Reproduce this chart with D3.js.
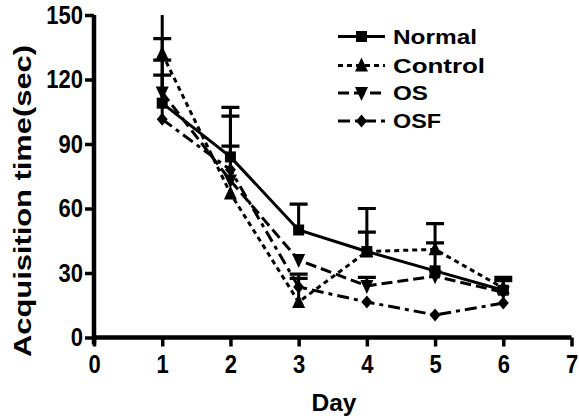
<!DOCTYPE html>
<html>
<head>
<meta charset="utf-8">
<script src="https://cdn.jsdelivr.net/npm/d3@7"></script>
<style>
  html, body { margin: 0; padding: 0; background: #fff; }
  svg { display: block; }
  text { font-family: "Liberation Sans", Arial, sans-serif; font-weight: bold; fill: #000; }
</style>
</head>
<body>
<svg id="chart" width="579" height="420"></svg>
<script>
// ---- data ----
const days = [1, 2, 3, 4, 5, 6];
const xTicks = [0, 1, 2, 3, 4, 5, 6, 7];
const yTicks = [0, 30, 60, 90, 120, 150];
const seriesNames = ["Normal", "Control", "OS", "OSF"];
const normalVals  = [109, 84, 50, 40, 31, 22];
const normalErr   = [20, 23, 12, 20, 22, 6];
const controlVals = [132, 67, 16.5, 40, 41, 23];
const controlErr  = [20, 0, 13, 9, 3, 3.5];
const osVals      = [114, 73, 36, 24, 28.5, 21];
const osErr       = [25, 16, 0, 4, 0, 0];
const osfVals     = [101.5, 78, 23.5, 16.5, 10.5, 16];
const osfErr      = [20.5, 25, 4, 0, 0, 0];
const xTitle = "Day";
const yTitle = "Acquisition time(sec)";

const series = [
  { name: seriesNames[0], vals: normalVals,  err: normalErr,  shape: "square", dash: null },
  { name: seriesNames[1], vals: controlVals, err: controlErr, shape: "up",     dash: "5,4" },
  { name: seriesNames[2], vals: osVals,      err: osErr,      shape: "down",   dash: "11,5" },
  { name: seriesNames[3], vals: osfVals,     err: osfErr,     shape: "diamond",dash: "12,5,4,5" }
];

const svg = d3.select("#chart");
const x = d3.scaleLinear().domain([0, 7]).range([94, 571.5]);
const y = d3.scaleLinear().domain([0, 150]).range([337.5, 15]);

function markerPath(shape) {
  switch (shape) {
    case "square":  return "M-5.5,-5.5H5.5V5.5H-5.5Z";
    case "up":      return "M0,-8L6.5,6H-6.5Z";
    case "down":    return "M0,8L6.5,-6H-6.5Z";
    case "diamond": return "M0,-6.5L5.5,0L0,6.5L-5.5,0Z";
  }
}

// clip
svg.append("defs").append("clipPath").attr("id", "plotclip")
  .append("rect").attr("x", x(0)).attr("y", y(150)).attr("width", x(7) - x(0)).attr("height", y(0) - y(150));

const plot = svg.append("g").attr("clip-path", "url(#plotclip)");

const line = d3.line().x((d, i) => x(days[i])).y(d => y(d));

series.forEach(s => {
  plot.append("path")
    .attr("d", line(s.vals))
    .attr("fill", "none")
    .attr("stroke", "#000")
    .attr("stroke-width", 3)
    .attr("stroke-dasharray", s.dash);
});

// error bars (upper only)
series.forEach(s => {
  s.vals.forEach((v, i) => {
    if (!s.err[i]) return;
    const cx = x(days[i]);
    plot.append("line")
      .attr("x1", cx).attr("x2", cx)
      .attr("y1", y(v)).attr("y2", y(v + s.err[i]))
      .attr("stroke", "#000").attr("stroke-width", 3);
    plot.append("line")
      .attr("x1", cx - 9).attr("x2", cx + 9)
      .attr("y1", y(v + s.err[i])).attr("y2", y(v + s.err[i]))
      .attr("stroke", "#000").attr("stroke-width", 3.2);
  });
});

// markers
series.forEach(s => {
  s.vals.forEach((v, i) => {
    svg.append("path")
      .attr("d", markerPath(s.shape))
      .attr("transform", `translate(${x(days[i])},${y(v)})`)
      .attr("fill", "#000");
  });
});

// axes
const fmt = d3.format("d");
const yAxis = svg.append("g").attr("transform", `translate(${x(0)},0)`)
  .call(d3.axisLeft(y).tickValues(yTicks).tickFormat(fmt).tickSize(9).tickSizeOuter(0).tickPadding(2));
const xAxis = svg.append("g").attr("transform", `translate(0,${y(0)})`)
  .call(d3.axisBottom(x).tickValues(xTicks).tickFormat(fmt).tickSize(9).tickSizeOuter(0).tickPadding(6));

[yAxis, xAxis].forEach(g => {
  g.select(".domain").attr("stroke", "#000").attr("stroke-width", 4.5);
  g.selectAll(".tick line").attr("stroke", "#000").attr("stroke-width", 3.5);
  g.selectAll(".tick text").attr("font-size", 22)
    .attr("transform", "scale(1,1.15)")
    .style("font-family", '"Liberation Sans", Arial, sans-serif').style("font-weight", "bold").attr("fill", "#000");
});
yAxis.select(".domain").attr("d", `M0,${y(150)}V${y(0) + 7}`);
xAxis.select(".domain").attr("d", `M${x(0)},0H${x(7)}`);

// titles
svg.append("text").attr("x", 334).attr("y", 411).attr("text-anchor", "middle")
  .attr("font-size", 23).attr("textLength", 45).attr("lengthAdjust", "spacingAndGlyphs").text(xTitle);
svg.append("text").attr("transform", "translate(31,201) rotate(-90)").attr("text-anchor", "middle")
  .attr("font-size", 23).attr("textLength", 312).attr("lengthAdjust", "spacingAndGlyphs").text(yTitle);

// legend
const legBase = [43.5, 72.5, 100, 128];
const legWidths = [84, 92, 35, 48];
series.forEach((s, i) => {
  const g = svg.append("g");
  const ly = legBase[i] - 7;
  g.append("line").attr("x1", 338).attr("x2", 385).attr("y1", ly).attr("y2", ly)
    .attr("stroke", "#000").attr("stroke-width", 3).attr("stroke-dasharray", s.dash);
  g.append("path").attr("d", markerPath(s.shape)).attr("transform", `translate(361.5,${ly})`).attr("fill", "#000");
  g.append("text").attr("x", 393).attr("y", legBase[i]).attr("font-size", 20)
    .attr("textLength", legWidths[i]).attr("lengthAdjust", "spacingAndGlyphs").text(s.name);
});
</script>
</body>
</html>
